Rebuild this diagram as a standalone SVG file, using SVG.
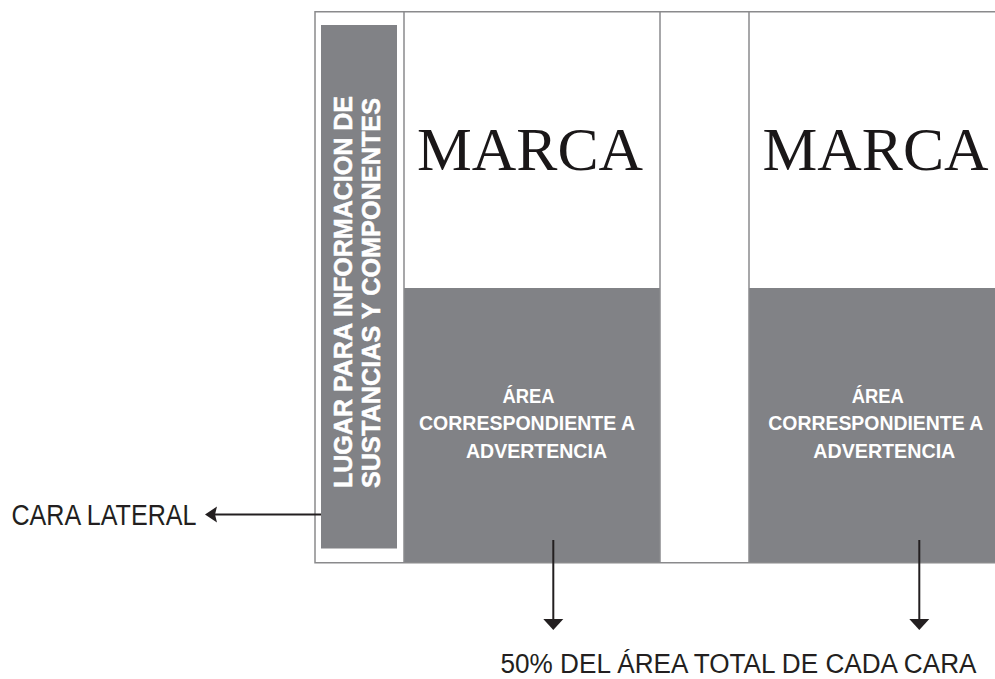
<svg xmlns="http://www.w3.org/2000/svg" width="995" height="679" viewBox="0 0 995 679">
<style>
.frame{fill:none;stroke:#8a8a8c;stroke-width:1.5}
.panel{fill:#818286}
.marca{font-family:"Liberation Serif","Times New Roman",serif;font-size:62px;fill:#1a1718}
.warn{font-family:"Liberation Sans Narrow","Liberation Sans",sans-serif;font-weight:bold;font-size:20.5px;fill:#ffffff}
.side{font-family:"Liberation Sans",Arial,sans-serif;font-weight:bold;font-size:25px;fill:#ffffff;stroke:#ffffff;stroke-width:0.5}
.label{font-family:"Liberation Sans Narrow","Liberation Sans",sans-serif;fill:#231f20}
.conn{stroke:#231f20;stroke-width:2;fill:none}
.head{fill:#231f20}
</style>
<rect width="995" height="679" fill="#ffffff"/>
<g id="box">
<rect x="404" y="288" width="256" height="275" class="panel"/>
<rect x="749" y="288" width="246" height="275" class="panel"/>
<polyline class="frame" points="995,11.7 315,11.7 315,562.7 995,562.7"/>
<line class="frame" x1="404" y1="11.7" x2="404" y2="562.7"/>
<line class="frame" x1="660" y1="11.7" x2="660" y2="562.7"/>
<line class="frame" x1="749" y1="11.7" x2="749" y2="562.7"/>
</g>
<g id="cara-lateral-panel">
<rect x="321" y="25" width="76" height="523.5" class="panel"/>
<text class="side" transform="translate(352,488) rotate(-90)" textLength="392" lengthAdjust="spacingAndGlyphs">LUGAR PARA INFORMACION DE</text>
<text class="side" transform="translate(380,488) rotate(-90)" textLength="390" lengthAdjust="spacingAndGlyphs">SUSTANCIAS Y COMPONENTES</text>
</g>
<g id="cara-frontal">
<text class="marca" x="417" y="170" textLength="226" lengthAdjust="spacingAndGlyphs">MARCA</text>
<text class="warn" x="502.5" y="402.7" textLength="52" lengthAdjust="spacingAndGlyphs">ÁREA</text>
<text class="warn" x="419" y="430" textLength="216" lengthAdjust="spacingAndGlyphs">CORRESPONDIENTE A</text>
<text class="warn" x="466" y="457.7" textLength="141" lengthAdjust="spacingAndGlyphs">ADVERTENCIA</text>
</g>
<g id="cara-posterior">
<text class="marca" x="762.5" y="170" textLength="226" lengthAdjust="spacingAndGlyphs">MARCA</text>
<text class="warn" x="851.7" y="402.7" textLength="52" lengthAdjust="spacingAndGlyphs">ÁREA</text>
<text class="warn" x="768.3" y="430" textLength="215" lengthAdjust="spacingAndGlyphs">CORRESPONDIENTE A</text>
<text class="warn" x="813.3" y="457.7" textLength="142" lengthAdjust="spacingAndGlyphs">ADVERTENCIA</text>
</g>
<g id="label-cara-lateral">
<text class="label" x="11.5" y="525" font-size="29" textLength="185" lengthAdjust="spacingAndGlyphs">CARA LATERAL</text>
</g>
<g id="label-50">
<text class="label" x="500.5" y="673" font-size="27" textLength="476" lengthAdjust="spacingAndGlyphs">50% DEL ÁREA TOTAL DE CADA CARA</text>
</g>
<g id="connectors">
<line class="conn" x1="321" y1="514.5" x2="214" y2="514.5"/>
<path class="head" d="M205,514.5 L217,506.5 L215,514.5 L217,522.5 Z"/>
<line class="conn" x1="553.3" y1="540" x2="553.3" y2="621"/>
<path class="head" d="M543.3,619 L563.3,619 L553.3,630 Z"/>
<line class="conn" x1="919.3" y1="540" x2="919.3" y2="621"/>
<path class="head" d="M909.3,619 L929.3,619 L919.3,630 Z"/>
</g>
</svg>
